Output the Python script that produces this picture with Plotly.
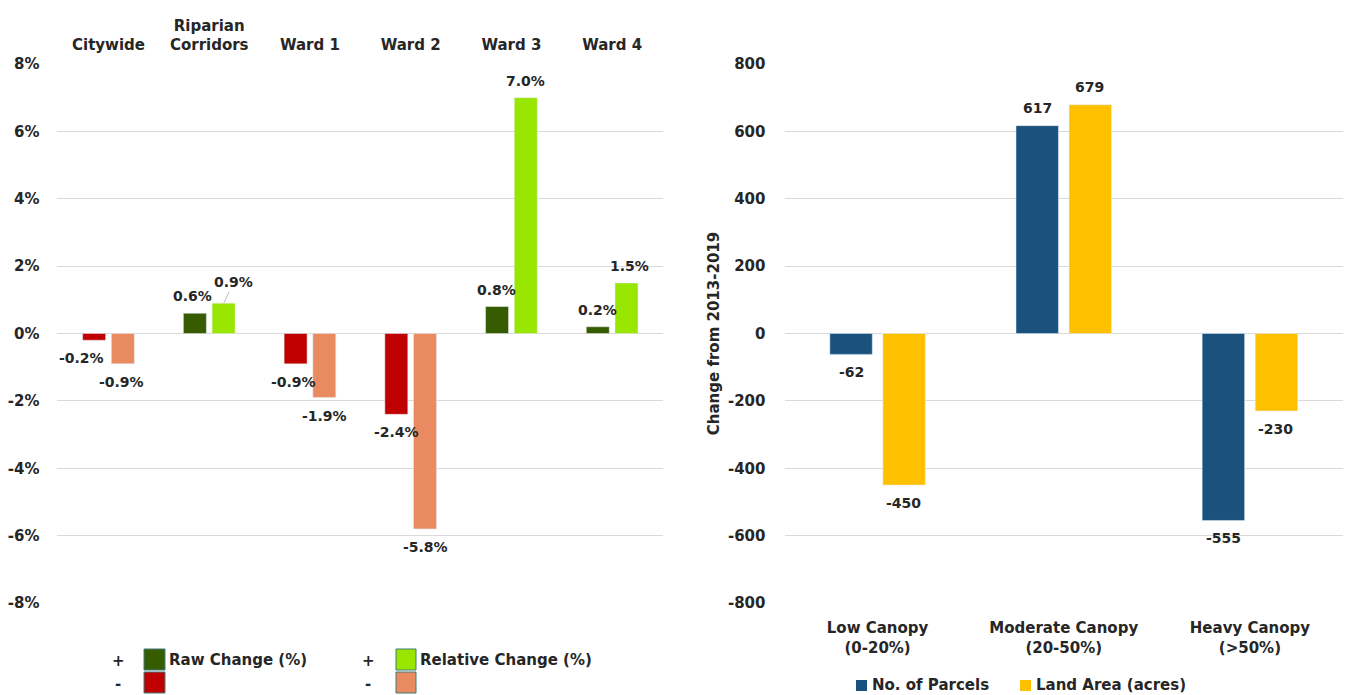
import plotly.graph_objects as go

# ---- Left panel: canopy change by area ----
areas = ["Citywide", "Riparian<br>Corridors", "Ward 1", "Ward 2", "Ward 3", "Ward 4"]
raw_change = [-0.2, 0.6, -0.9, -2.4, 0.8, 0.2]
relative_change = [-0.9, 0.9, -1.9, -5.8, 7.0, 1.5]
pct_ticks = [-8, -6, -4, -2, 0, 2, 4, 6, 8]

# ---- Right panel: change by canopy class ----
canopy_classes = ["Low Canopy<br>(0-20%)", "Moderate Canopy<br>(20-50%)", "Heavy Canopy<br>(>50%)"]
series_names = ["No. of Parcels", "Land Area (acres)"]
parcels = [-62, 617, -555]
land_area = [-450, 679, -230]
count_ticks = [-800, -600, -400, -200, 0, 200, 400, 600, 800]

W, H = 1348, 695
FONT = "DejaVu Sans"
TXT = "#262626"

RAW_POS, RAW_NEG = "#375C00", "#C00000"
REL_POS, REL_NEG = "#99E600", "#E98A60"
BLUE, GOLD = "#1A527D", "#FFC000"


def px(x):
    return x / W


def py(y):
    return 1 - y / H


def sign_colors(vals, pos, neg):
    return [pos if v >= 0 else neg for v in vals]


fig = go.Figure()

fig.add_trace(go.Bar(
    x=areas, y=raw_change, xaxis="x", yaxis="y", name="Raw Change (%)",
    marker=dict(color=sign_colors(raw_change, RAW_POS, RAW_NEG)),
    showlegend=False,
))
fig.add_trace(go.Bar(
    x=areas, y=relative_change, xaxis="x", yaxis="y", name="Relative Change (%)",
    marker=dict(color=sign_colors(relative_change, REL_POS, REL_NEG)),
    showlegend=False,
))

fig.add_trace(go.Bar(
    x=canopy_classes, y=parcels, xaxis="x2", yaxis="y2",
    name=series_names[0], marker=dict(color=BLUE), showlegend=False,
))
fig.add_trace(go.Bar(
    x=canopy_classes, y=land_area, xaxis="x2", yaxis="y2",
    name=series_names[1], marker=dict(color=GOLD), showlegend=False,
))

annotations = []
label_font = dict(family=FONT, size=14, color=TXT, weight="bold")

# value labels on the left panel (small horizontal nudges keep them clear of neighbours;
# one label sits off to the side with a thin leader line back to its bar)
raw_nudge = [-13, -2, -2, 0, 0, 0]
rel_nudge = [-2, 10, 0, 0, 0, 3]
rel_leader = [False, True, False, False, False, False]
for i, cat in enumerate(areas):
    for vals, shift, nudge, leader in (
        (raw_change, -14.5, raw_nudge, [False] * len(areas)),
        (relative_change, 14.5, rel_nudge, rel_leader),
    ):
        v = vals[i]
        if leader[i]:
            annotations.append(dict(
                x=cat, y=v, xref="x", yref="y", text=f"{v:.1f}%",
                showarrow=True, arrowhead=0, arrowwidth=1, arrowcolor="#BFBFBF",
                xshift=shift, ax=nudge[i], ay=-21, font=label_font,
            ))
        else:
            annotations.append(dict(
                x=cat, y=v, xref="x", yref="y", text=f"{v:.1f}%",
                showarrow=False, xshift=shift + nudge[i], yshift=17 if v >= 0 else -18,
                font=label_font,
            ))

# value labels on the right panel
for i, cat in enumerate(canopy_classes):
    for vals, shift in ((parcels, -26), (land_area, 26)):
        v = vals[i]
        annotations.append(dict(
            x=cat, y=v, xref="x2", yref="y2", text=f"{v}",
            showarrow=False, xshift=shift, yshift=18 if v >= 0 else -18,
            font=label_font,
        ))

legend_font = dict(family=FONT, size=15, color=TXT, weight="bold")
shapes = []

# custom two-row legend for the left panel
swatches = [
    (144, 165, 649, 670, RAW_POS), (144, 165, 672, 693, RAW_NEG),
    (396, 416, 649, 670, REL_POS), (396, 416, 672, 693, REL_NEG),
]
for x0, x1, y0, y1, col in swatches:
    shapes.append(dict(
        type="rect", xref="paper", yref="paper",
        x0=px(x0), x1=px(x1), y0=py(y1), y1=py(y0),
        fillcolor=col, line=dict(color="#3E7A7A", width=1),
    ))
for x, y, t, anchor in [
    (118, 661, "+", "center"), (118, 684, "-", "center"),
    (368, 661, "+", "center"), (368, 684, "-", "center"),
    (167, 660, "Raw Change (%)", "left"), (418, 660, "Relative Change (%)", "left"),
]:
    annotations.append(dict(
        x=px(x), y=py(y), xref="paper", yref="paper", text=t,
        showarrow=False, xanchor=anchor, yanchor="middle", font=legend_font,
    ))

# key for the right panel
for (x0, tx), col, name in zip([(856, 870), (1020, 1034)], [BLUE, GOLD], series_names):
    shapes.append(dict(
        type="rect", xref="paper", yref="paper",
        x0=px(x0), x1=px(x0 + 11), y0=py(691), y1=py(680),
        fillcolor=col, line=dict(width=0),
    ))
    annotations.append(dict(
        x=px(tx), y=py(685), xref="paper", yref="paper", text=name,
        showarrow=False, xanchor="left", yanchor="middle", font=legend_font,
    ))

grid = "#D9D9D9"
tick_font = dict(family=FONT, size=15, color=TXT, weight="bold")
cat_font = dict(family=FONT, size=15, color=TXT, weight="bold")

fig.update_layout(
    width=W, height=H,
    margin=dict(l=0, r=0, t=0, b=0),
    paper_bgcolor="white", plot_bgcolor="white",
    barmode="group", bargap=0.43, bargroupgap=0.2,
    font=dict(family=FONT, color=TXT),
    showlegend=False,
    xaxis=dict(
        domain=[px(56.5), px(662.5)], anchor="y", side="top", automargin=False,
        type="category", showgrid=False, showline=False, ticks="",
        tickfont=cat_font, ticklabelstandoff=10,
    ),
    yaxis=dict(
        domain=[py(603), py(64)], anchor="x", range=[-8, 8], automargin=False,
        tickvals=pct_ticks, ticktext=[f"{v}%" for v in pct_ticks],
        showgrid=True, gridcolor=grid, gridwidth=1, zeroline=False,
        showline=False, ticks="", tickfont=tick_font, ticklabelstandoff=16,
    ),
    xaxis2=dict(
        domain=[px(784.5), px(1343)], anchor="y2", automargin=False,
        type="category", showgrid=False, showline=False, ticks="",
        tickfont=cat_font, ticklabelstandoff=14,
    ),
    yaxis2=dict(
        domain=[py(603), py(64)], anchor="x2", range=[-800, 800], automargin=False,
        tickvals=count_ticks, ticktext=[str(v) for v in count_ticks],
        showgrid=True, gridcolor=grid, gridwidth=1, zeroline=False,
        showline=False, ticks="", tickfont=tick_font, ticklabelstandoff=18,
        title=dict(text="Change from 2013-2019", font=tick_font, standoff=4),
    ),
    annotations=annotations,
    shapes=shapes,
)

fig.write_html("out.html")
